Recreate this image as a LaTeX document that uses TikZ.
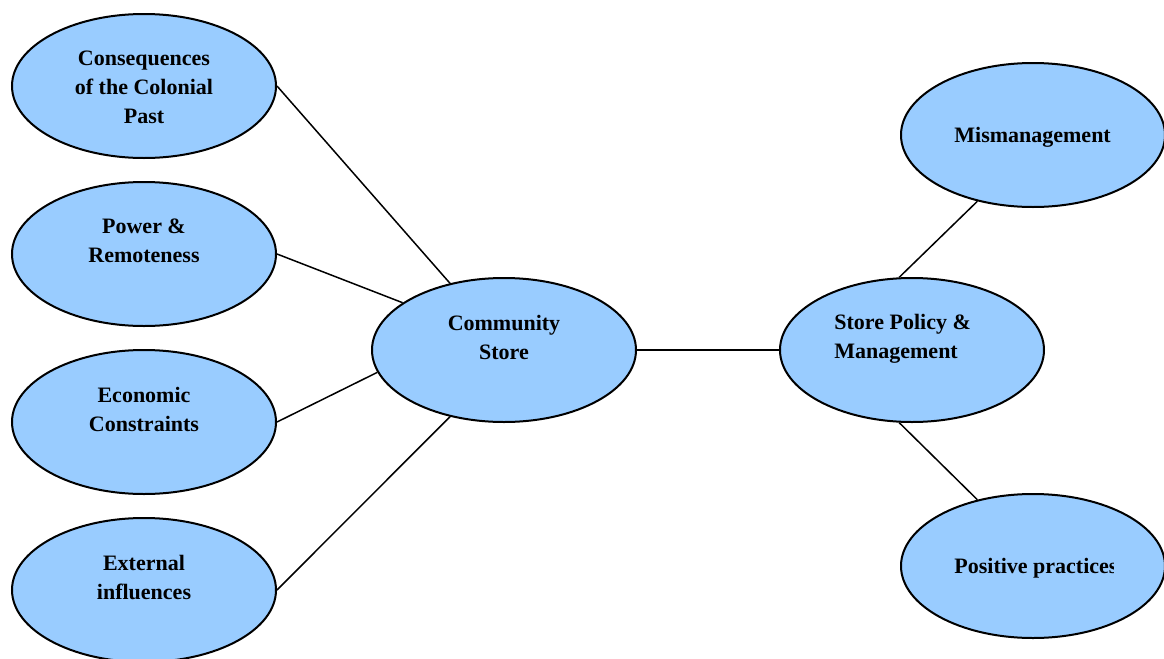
\documentclass[tikz,border=0pt]{standalone}
\usepackage{fontspec}
\setmainfont{Liberation Serif}
\usetikzlibrary{shapes.geometric}
\definecolor{bubblefill}{RGB}{153,204,255}
\begin{document}
\begin{tikzpicture}
  [x=0.5pt,y=-0.5pt,
   bubble/.style={ellipse,draw,line width=1pt,fill=bubblefill,inner sep=0pt,
     minimum width=132pt,minimum height=72pt},
   lbl/.style={inner sep=0pt,align=center,
     font=\fontsize{11}{14.5}\selectfont\bfseries},
   link/.style={line width=0.75pt}]
  \useasboundingbox (0,0) rectangle (1164,659);

  \node (cons) at (144,86) [bubble] {};
  \node (power) at (144,254) [bubble] {};
  \node (econ) at (144,422) [bubble] {};
  \node (ext) at (144,590) [bubble] {};

  \node (store) at (504,350) [bubble] {};
  \node (policy) at (912,350) [bubble] {};

  \node (mis) at (1033,135) [bubble] {};
  \node (pos) at (1033,566) [bubble] {};

  \node (consT) at (144,87) [lbl] {Consequences\\of the Colonial\\Past};
  \node (powerT) at (144,241) [lbl] {Power \&\\Remoteness};
  \node (econT) at (144,409) [lbl] {Economic\\Constraints};
  \node (extT) at (144,577) [lbl] {External\\influences};
  \node (storeT) at (504,337) [lbl] {Community\\Store};
  \node (policyT) at (834,339) [lbl,align=left,anchor=west] {Store Policy \&\\Management};
  \node (misT) at (954,137) [lbl,anchor=west] {Mismanagement};
  \begin{scope}
    \clip (900,480) rectangle (1113,659);
    \node (posT) at (954,568) [lbl,anchor=west] {Positive practices};
  \end{scope}

  \draw [link] (cons.east) to (store.129);
  \draw [link] (power.east) to (store.155);
  \draw [link] (econ.east) to (store.190);
  \draw [link] (ext.east) to (store.231);
  \draw [link] (store.east) to (policy.west);
  \draw [link] (policy.100) to (mis.230);
  \draw [link] (policy.260) to (pos.130);
\end{tikzpicture}
\end{document}
